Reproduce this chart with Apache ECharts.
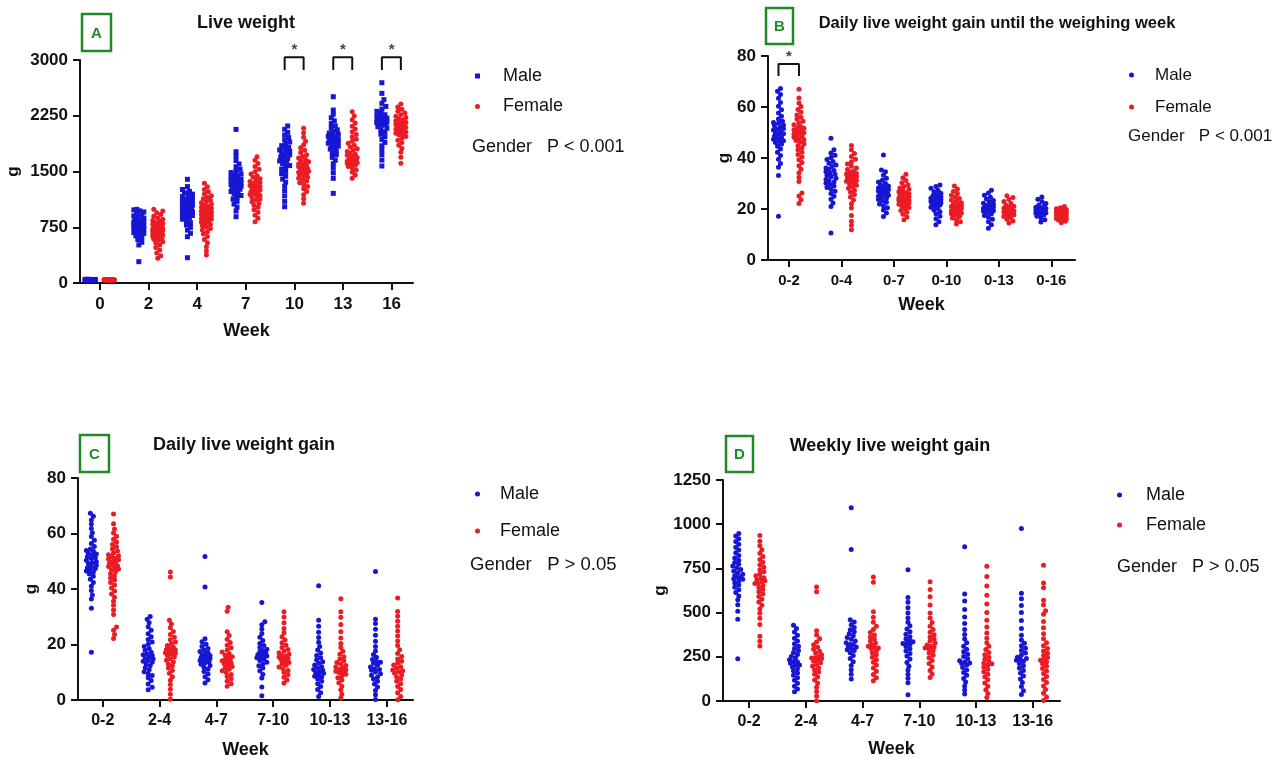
<!DOCTYPE html>
<html>
<head>
<meta charset="utf-8">
<script src="https://cdn.jsdelivr.net/npm/echarts@6.0.0/dist/echarts.min.js"></script>
<style>
  html, body { margin: 0; background: #fff; }
  #chart { width: 1283px; height: 762px; }
</style>
</head>
<body>
<div id="chart"></div>
<script>
// ---- category labels ----
const weekLabels = ['0', '2', '4', '7', '10', '13', '16']
const cumulativeLabels = ['0-2', '0-4', '0-7', '0-10', '0-13', '0-16']
const intervalLabels = ['0-2', '2-4', '4-7', '7-10', '10-13', '13-16']

// ---- A: live weight (g), one array per week ----
const liveWeightMale = [
  [42, 45, 40, 48, 44, 46, 43, 47, 41, 45, 44, 50, 39, 46, 43, 45, 48, 42, 44, 47, 45, 43, 46, 41, 44, 49, 45, 42, 47, 44, 46, 43, 45, 48, 40, 44, 46, 45, 43, 47],
  [287, 512, 548, 583, 612, 634, 652, 667, 680, 692, 702, 711, 720, 728, 736, 743, 750, 757, 764, 770, 777, 784, 790, 797, 804, 812, 820, 829, 838, 848, 860, 873, 888, 904, 921, 939, 956, 971, 984, 991],
  [340, 623, 668, 712, 748, 781, 812, 836, 858, 877, 893, 908, 921, 934, 946, 958, 969, 980, 991, 1002, 1013, 1024, 1035, 1046, 1058, 1069, 1081, 1093, 1106, 1119, 1133, 1148, 1163, 1179, 1196, 1213, 1232, 1258, 1297, 1395],
  [892, 968, 1021, 1062, 1098, 1128, 1154, 1177, 1196, 1214, 1231, 1246, 1261, 1275, 1288, 1301, 1314, 1326, 1338, 1350, 1362, 1374, 1386, 1398, 1411, 1424, 1438, 1452, 1468, 1486, 1507, 1532, 1563, 1602, 1648, 1712, 1766, 2067],
  [1026, 1098, 1172, 1241, 1302, 1355, 1398, 1436, 1471, 1502, 1530, 1556, 1580, 1602, 1622, 1641, 1659, 1676, 1693, 1709, 1725, 1741, 1757, 1773, 1790, 1808, 1827, 1848, 1871, 1897, 1925, 1956, 1990, 2026, 2068, 2112],
  [1206, 1408, 1482, 1548, 1604, 1651, 1690, 1724, 1753, 1779, 1802, 1823, 1842, 1860, 1877, 1880, 1893, 1908, 1915, 1923, 1938, 1945, 1953, 1968, 1975, 1984, 2001, 2019, 2039, 2061, 2086, 2114, 2146, 2182, 2223, 2271, 2327, 2506],
  [1574, 1654, 1728, 1792, 1846, 1891, 1932, 1968, 2001, 2031, 2058, 2082, 2103, 2121, 2136, 2140, 2149, 2155, 2160, 2165, 2170, 2175, 2179, 2185, 2188, 2195, 2197, 2207, 2218, 2231, 2246, 2264, 2285, 2310, 2340, 2375, 2417, 2467, 2551, 2694]
]
const liveWeightFemale = [
  [40, 43, 45, 42, 44, 41, 46, 43, 44, 42, 45, 40, 43, 47, 44, 42, 45, 43, 41, 44, 46, 43, 42, 44, 45, 41, 43, 44, 42, 46, 43, 45, 44, 42, 41, 43, 44, 45, 42, 43, 46, 44, 42, 43],
  [332, 368, 402, 445, 478, 512, 538, 556, 574, 589, 603, 614, 626, 635, 644, 652, 660, 667, 674, 681, 688, 694, 700, 706, 712, 719, 725, 731, 738, 745, 752, 759, 766, 774, 782, 791, 801, 812, 826, 841, 857, 876, 898, 921, 945, 968, 991],
  [377, 432, 488, 541, 586, 624, 659, 688, 712, 734, 753, 771, 788, 803, 818, 831, 844, 857, 869, 881, 893, 905, 917, 929, 941, 953, 965, 978, 991, 1004, 1018, 1032, 1047, 1062, 1078, 1095, 1113, 1132, 1152, 1174, 1198, 1226, 1258, 1296, 1341],
  [825, 871, 912, 951, 986, 1018, 1046, 1071, 1093, 1113, 1131, 1148, 1163, 1177, 1190, 1203, 1215, 1227, 1239, 1251, 1263, 1275, 1287, 1299, 1312, 1325, 1338, 1352, 1367, 1383, 1401, 1421, 1443, 1468, 1497, 1531, 1568, 1608, 1652, 1699],
  [1072, 1134, 1188, 1232, 1268, 1299, 1326, 1350, 1371, 1390, 1408, 1424, 1439, 1453, 1466, 1479, 1491, 1503, 1515, 1527, 1539, 1551, 1563, 1575, 1588, 1601, 1615, 1630, 1646, 1663, 1682, 1703, 1727, 1754, 1785, 1820, 1861, 1908, 1962, 2020, 2081],
  [1408, 1452, 1489, 1520, 1546, 1567, 1585, 1599, 1611, 1618, 1625, 1633, 1642, 1652, 1663, 1675, 1688, 1702, 1717, 1733, 1750, 1768, 1787, 1807, 1829, 1853, 1879, 1906, 1935, 1966, 1999, 2034, 2071, 2110, 2152, 2196, 2248, 2304],
  [1610, 1692, 1758, 1811, 1854, 1890, 1921, 1948, 1972, 1994, 2000, 2014, 2032, 2040, 2049, 2065, 2070, 2080, 2094, 2100, 2108, 2122, 2130, 2136, 2150, 2160, 2164, 2178, 2193, 2209, 2226, 2244, 2264, 2286, 2310, 2337, 2368, 2407]
]

// ---- daily gain 0-2 weeks (g/day), shared by B and C ----
const gain02Male = [17.2, 33.1, 36.4, 37.8, 39.5, 41.0, 42.3, 43.5, 44.6, 45.4, 46.1, 46.5, 46.8, 47.4, 47.7, 48.0, 48.6, 49.2, 49.5, 49.8, 50.4, 51.0, 51.3, 51.6, 52.2, 52.6, 52.9, 53.6, 53.9, 54.4, 55.3, 56.4, 57.6, 58.9, 60.3, 61.8, 63.4, 64.9, 66.2, 67.3]
const gain02Female = [22.2, 23.6, 25.1, 26.3, 30.8, 32.4, 34.1, 35.6, 37.0, 38.2, 39.3, 40.4, 41.4, 42.3, 43.2, 44.0, 44.8, 45.5, 46.2, 46.9, 47.2, 47.5, 48.1, 48.4, 48.7, 49.3, 49.6, 49.9, 50.5, 50.8, 51.1, 51.7, 52.0, 52.3, 53.0, 53.7, 54.4, 55.2, 56.0, 56.9, 57.9, 59.0, 60.2, 61.6, 63.5, 67.0]

// ---- B: daily gain until the weighing week (g/day) ----
const cumulativeGainMale = [
  gain02Male,
  [10.6, 21.0, 22.4, 23.8, 25.0, 26.1, 27.0, 27.8, 28.4, 29.0, 29.6, 30.1, 30.6, 31.1, 31.6, 32.1, 32.6, 33.1, 33.6, 34.1, 34.6, 35.1, 35.6, 36.1, 36.7, 37.3, 37.9, 38.6, 39.4, 40.2, 41.1, 42.0, 43.2, 47.7],
  [17.1, 18.4, 19.6, 20.5, 21.3, 22.0, 22.6, 23.2, 23.7, 24.2, 24.6, 25.0, 25.4, 25.8, 26.1, 26.4, 26.7, 27.0, 27.3, 27.6, 27.9, 28.2, 28.6, 29.0, 29.5, 30.0, 30.6, 31.3, 32.1, 33.2, 34.6, 35.3, 41.2],
  [13.8, 15.0, 16.2, 17.2, 18.1, 18.9, 19.6, 20.2, 20.7, 21.2, 21.6, 22.0, 22.4, 22.8, 23.2, 23.6, 24.0, 24.4, 24.8, 25.2, 25.7, 26.2, 26.8, 27.4, 28.1, 28.8, 29.4, 23.0, 22.1, 24.2],
  [12.5, 13.8, 15.0, 16.0, 16.8, 17.5, 18.1, 18.6, 19.1, 19.5, 19.9, 20.3, 20.7, 21.1, 21.5, 21.9, 22.3, 22.8, 23.3, 23.9, 24.6, 25.4, 26.3, 27.4, 20.0, 20.5, 19.3, 21.3],
  [14.9, 15.8, 16.6, 17.2, 17.7, 18.1, 18.5, 18.8, 19.1, 19.4, 19.7, 20.0, 20.3, 20.7, 21.1, 21.6, 22.2, 22.9, 23.8, 24.7, 18.3, 19.0, 19.6, 20.2]
]
const cumulativeGainFemale = [
  gain02Female,
  [11.9, 13.6, 15.2, 17.5, 20.4, 22.1, 23.5, 24.7, 25.7, 26.6, 27.4, 28.1, 28.7, 29.3, 29.9, 30.4, 30.9, 31.4, 31.9, 32.4, 32.9, 33.4, 33.9, 34.4, 34.9, 35.5, 36.1, 36.8, 37.6, 38.5, 39.5, 40.6, 41.8, 43.2, 44.9, 31.2, 32.6, 33.7],
  [15.8, 16.9, 17.9, 18.7, 19.4, 20.0, 20.6, 21.1, 21.5, 21.9, 22.3, 22.7, 23.0, 23.3, 23.6, 23.9, 24.2, 24.5, 24.8, 25.1, 25.4, 25.7, 26.0, 26.4, 26.8, 27.2, 27.7, 28.2, 28.8, 29.5, 30.3, 31.2, 32.3, 33.6, 24.0, 23.4],
  [14.1, 15.0, 15.8, 16.5, 17.1, 17.6, 18.1, 18.5, 18.9, 19.3, 19.7, 20.1, 20.5, 20.9, 21.3, 21.7, 22.1, 22.5, 23.0, 23.5, 24.1, 24.7, 25.4, 26.1, 26.9, 27.8, 29.0, 19.0, 20.3, 18.3, 21.0],
  [14.5, 15.3, 16.0, 16.6, 17.1, 17.5, 17.9, 18.2, 18.5, 18.8, 19.1, 19.4, 19.7, 20.0, 20.3, 20.7, 21.1, 21.6, 22.2, 22.9, 23.7, 24.5, 25.2, 18.0, 18.7, 19.2, 17.7],
  [14.6, 15.2, 15.7, 16.1, 16.5, 16.8, 17.1, 17.4, 17.7, 18.0, 18.3, 18.6, 18.9, 19.2, 19.5, 19.8, 20.1, 20.5, 21.0, 16.3, 17.0, 17.6, 18.2, 18.8, 19.4, 15.9]
]

// ---- C: daily gain per interval (g/day) ----
const intervalGainMale = [
  gain02Male,
  [3.7, 4.6, 5.8, 7.0, 8.0, 8.8, 9.5, 10.2, 10.9, 11.6, 12.3, 13.0, 13.6, 14.2, 14.8, 15.4, 16.0, 16.6, 17.2, 17.9, 18.6, 19.3, 20.1, 20.9, 21.8, 22.8, 23.9, 25.1, 26.4, 27.8, 29.1, 30.1, 15.0, 14.0, 16.3],
  [6.1, 7.3, 8.4, 9.4, 10.3, 11.1, 11.8, 12.4, 12.9, 13.4, 13.8, 14.2, 14.6, 15.0, 15.4, 15.8, 16.2, 16.6, 17.0, 17.5, 18.0, 18.6, 19.3, 20.1, 21.0, 22.1, 40.7, 51.7, 14.4, 15.2, 16.0],
  [1.5, 4.7, 7.9, 9.3, 10.5, 11.5, 12.3, 13.0, 13.6, 14.2, 14.7, 15.2, 15.7, 16.1, 16.5, 16.9, 17.3, 17.8, 18.3, 18.9, 19.6, 20.4, 21.4, 22.6, 24.0, 25.6, 27.1, 28.2, 35.1, 15.9, 16.3],
  [1.3, 2.6, 3.8, 4.9, 5.9, 6.8, 7.6, 8.3, 9.0, 9.6, 10.2, 10.8, 11.4, 12.0, 12.6, 13.2, 13.8, 14.5, 15.2, 16.0, 16.9, 18.0, 19.3, 20.8, 22.5, 24.4, 26.6, 28.7, 41.2, 9.8, 11.0, 8.6],
  [0.2, 1.9, 3.4, 4.7, 5.8, 6.8, 7.6, 8.3, 8.9, 9.5, 10.1, 10.7, 11.3, 11.9, 12.5, 13.2, 13.9, 14.6, 15.4, 16.4, 17.7, 19.3, 21.2, 23.3, 25.5, 27.6, 29.1, 46.3, 11.0, 13.6]
]
const intervalGainFemale = [
  gain02Female,
  [0.3, 2.1, 3.9, 5.6, 7.1, 8.4, 9.6, 10.6, 11.5, 12.3, 13.0, 13.7, 14.3, 14.9, 15.5, 16.0, 16.5, 17.0, 17.5, 18.0, 18.5, 19.0, 19.6, 20.2, 20.9, 21.7, 22.6, 23.6, 24.7, 26.0, 27.4, 28.7, 44.3, 46.1, 17.2, 16.8, 18.2],
  [5.0, 5.9, 6.8, 7.7, 8.5, 9.2, 9.9, 10.5, 11.1, 11.6, 12.1, 12.6, 13.1, 13.6, 14.1, 14.6, 15.1, 15.6, 16.1, 16.7, 17.3, 18.0, 18.8, 19.7, 20.7, 21.9, 23.2, 24.6, 32.0, 33.4, 13.3, 14.3],
  [6.1, 7.2, 8.2, 9.1, 9.9, 10.6, 11.3, 11.9, 12.5, 13.0, 13.5, 14.0, 14.5, 15.0, 15.5, 16.0, 16.5, 17.0, 17.6, 18.2, 18.9, 19.7, 20.6, 21.6, 22.8, 24.2, 25.8, 27.8, 29.9, 31.8, 15.2, 15.8],
  [0.7, 2.1, 3.6, 5.0, 6.2, 7.2, 8.0, 8.7, 9.3, 9.9, 10.4, 10.9, 11.4, 11.9, 12.4, 12.9, 13.5, 14.1, 14.8, 15.6, 16.5, 17.6, 18.9, 20.4, 22.3, 24.6, 27.2, 29.8, 31.8, 36.5, 10.1, 11.1],
  [0.1, 1.3, 2.6, 3.8, 4.9, 5.9, 6.8, 7.6, 8.3, 9.0, 9.6, 10.2, 10.8, 11.4, 12.0, 12.6, 13.3, 14.0, 14.8, 15.7, 16.8, 18.1, 19.6, 21.3, 23.1, 24.9, 26.6, 28.4, 30.2, 31.9, 36.8, 10.5]
]

// ---- D: weekly live weight gain per interval (g) ----
const weeklyGainMale = [
  [239, 462, 508, 545, 572, 594, 613, 629, 643, 656, 668, 679, 689, 699, 708, 717, 726, 735, 744, 753, 763, 773, 784, 796, 809, 823, 838, 854, 870, 886, 902, 918, 933, 948, 700, 690],
  [52, 68, 84, 101, 117, 132, 146, 159, 171, 182, 193, 203, 213, 223, 233, 243, 253, 263, 274, 285, 297, 310, 324, 339, 355, 372, 390, 410, 428, 220, 205],
  [124, 151, 177, 201, 222, 241, 258, 273, 286, 298, 309, 319, 329, 339, 349, 359, 369, 380, 391, 403, 416, 431, 447, 460, 857, 1093, 305, 320, 290],
  [35, 103, 128, 152, 175, 197, 218, 237, 254, 269, 283, 296, 308, 319, 330, 341, 352, 364, 377, 391, 407, 425, 446, 470, 498, 528, 558, 585, 742, 335, 325],
  [39, 62, 85, 107, 127, 145, 161, 176, 190, 203, 215, 227, 239, 251, 264, 278, 293, 310, 329, 351, 376, 405, 438, 475, 518, 565, 605, 873, 212, 220],
  [37, 58, 82, 104, 124, 142, 158, 173, 187, 200, 212, 224, 236, 248, 260, 272, 285, 298, 312, 327, 345, 372, 410, 455, 500, 540, 578, 610, 976, 230, 240]
]
const weeklyGainFemale = [
  [311, 338, 366, 433, 468, 497, 521, 542, 560, 576, 591, 605, 618, 630, 642, 653, 664, 675, 686, 697, 708, 719, 731, 743, 756, 770, 785, 801, 818, 836, 856, 878, 903, 936, 680, 665, 695],
  [2, 28, 54, 78, 100, 119, 136, 151, 164, 176, 187, 197, 207, 216, 225, 234, 243, 252, 261, 271, 281, 292, 304, 318, 334, 352, 373, 398, 618, 645, 240, 245],
  [114, 132, 150, 168, 186, 203, 219, 234, 248, 261, 273, 284, 295, 306, 317, 328, 339, 350, 362, 374, 388, 404, 423, 446, 474, 505, 672, 701, 300, 310],
  [133, 153, 173, 193, 212, 229, 245, 259, 272, 284, 295, 306, 317, 328, 339, 350, 362, 375, 389, 405, 423, 444, 469, 498, 543, 590, 630, 675, 300, 310],
  [20, 42, 63, 83, 102, 120, 137, 152, 166, 179, 191, 203, 214, 225, 236, 248, 261, 275, 291, 309, 330, 355, 384, 418, 457, 500, 548, 598, 650, 704, 762, 210],
  [3, 22, 44, 65, 85, 104, 122, 139, 155, 170, 184, 197, 210, 222, 234, 246, 258, 270, 283, 297, 312, 330, 352, 380, 415, 450, 490, 510, 545, 570, 640, 668, 768, 230]
]

const MALE_COLOR = '#1616d4'
const FEMALE_COLOR = '#ec1c24'
const FONT = '"Liberation Sans", Arial, sans-serif'
const DOT = 5
const DOT_GAP = 4
const MAX_SPREAD = 5

const panels = [
  {
    letter: 'A', title: 'Live weight', titleX: 246, titleY: 23, titleSize: 18,
    box: [82, 14, 29, 37],
    grid: { left: 80, top: 60, width: 333, height: 223 },
    xMin: -0.41, xMax: 6.44, yMax: 3000, yStep: 750, labelSize: 17,
    cats: weekLabels, male: liveWeightMale, female: liveWeightFemale, maleSymbol: 'rect',
    nameGapX: 39, nameGapY: 58,
    brackets: [4, 5, 6], bracketTop: 3036, bracketLeg: 2865,
    legend: { left: 475, top: 66, gap: 10.5, pad: 18, size: 18 },
    pText: 'Gender   P < 0.001', pX: 472, pY: 147, pSize: 18
  },
  {
    letter: 'B', title: 'Daily live weight gain until the weighing week', titleX: 997, titleY: 23, titleSize: 16.5,
    box: [766, 8, 27, 36],
    grid: { left: 768, top: 56, width: 307, height: 204 },
    xMin: -0.4, xMax: 5.45, yMax: 80, yStep: 20, labelSize: 15,
    cats: cumulativeLabels, male: cumulativeGainMale, female: cumulativeGainFemale, maleSymbol: 'circle',
    nameGapX: 36, nameGapY: 35,
    brackets: [0], bracketTop: 76.9, bracketLeg: 72.2,
    legend: { left: 1129, top: 65, gap: 12, pad: 16, size: 17 },
    pText: 'Gender   P < 0.001', pX: 1128, pY: 136, pSize: 17
  },
  {
    letter: 'C', title: 'Daily live weight gain', titleX: 244, titleY: 445, titleSize: 18,
    box: [80, 435, 29, 37],
    grid: { left: 78, top: 478, width: 335, height: 222 },
    xMin: -0.435, xMax: 5.46, yMax: 80, yStep: 20, labelSize: 16,
    cats: intervalLabels, male: intervalGainMale, female: intervalGainFemale, maleSymbol: 'circle',
    nameGapX: 41, nameGapY: 38,
    brackets: [], bracketTop: 0, bracketLeg: 0,
    legend: { left: 475, top: 484, gap: 17, pad: 15, size: 18 },
    pText: 'Gender   P > 0.05', pX: 470, pY: 565, pSize: 18.5
  },
  {
    letter: 'D', title: 'Weekly live weight gain', titleX: 890, titleY: 446, titleSize: 18,
    box: [726, 436, 27, 36],
    grid: { left: 723, top: 480, width: 337, height: 221 },
    xMin: -0.46, xMax: 5.48, yMax: 1250, yStep: 250, labelSize: 16,
    cats: intervalLabels, male: weeklyGainMale, female: weeklyGainFemale, maleSymbol: 'circle',
    nameGapX: 39, nameGapY: 52,
    brackets: [], bracketTop: 0, bracketLeg: 0,
    legend: { left: 1117, top: 485, gap: 10, pad: 19, size: 18 },
    pText: 'Gender   P > 0.05', pX: 1117, pY: 567, pSize: 18
  }
]

// beeswarm layout: x offset in pixels so dots do not pile up
const OFFSETS = [0]
for (let k = 1; k <= MAX_SPREAD; k++) OFFSETS.push(k, -k)

function swarm(values, center, pxPerX, pxPerY) {
  const placed = []
  return values.slice().sort((a, b) => a - b).map(v => {
    const py = v * pxPerY
    let best = 0
    let bestGap = -1
    for (const off of OFFSETS) {
      let gap = Infinity
      for (const p of placed) {
        const d = Math.hypot(p[0] - off, p[1] - py)
        if (d < gap) gap = d
      }
      if (gap >= DOT_GAP) { best = off; break }
      if (gap > bestGap) { bestGap = gap; best = off }
    }
    placed.push([best, py])
    return [center + best / pxPerX, v]
  })
}

const grids = []
const xAxes = []
const yAxes = []
const series = []
const legends = []
const graphics = []

panels.forEach((p, i) => {
  grids.push(p.grid)
  const pxPerX = p.grid.width / (p.xMax - p.xMin)
  const pxPerY = p.grid.height / p.yMax
  const ticks = p.cats.map((c, k) => k)

  xAxes.push({
    type: 'value', gridIndex: i, min: p.xMin, max: p.xMax,
    name: 'Week', nameLocation: 'middle', nameGap: p.nameGapX,
    nameTextStyle: { fontFamily: FONT, fontWeight: 'bold', fontSize: 18, color: '#111' },
    splitLine: { show: false },
    axisLine: { onZero: false, lineStyle: { color: '#111', width: 2 } },
    axisTick: { customValues: ticks, length: 7, lineStyle: { color: '#111', width: 2 } },
    axisLabel: {
      customValues: ticks, margin: 13, color: '#111', fontFamily: FONT, fontWeight: 'bold', fontSize: p.labelSize,
      formatter: v => p.cats[Math.round(v)]
    }
  })
  yAxes.push({
    type: 'value', gridIndex: i, min: 0, max: p.yMax, interval: p.yStep,
    name: 'g', nameLocation: 'middle', nameGap: p.nameGapY,
    nameTextStyle: { fontFamily: FONT, fontWeight: 'bold', fontSize: 17, color: '#111' },
    splitLine: { show: false },
    axisLine: { show: true, onZero: false, lineStyle: { color: '#111', width: 2 } },
    axisTick: { show: true, length: 7, lineStyle: { color: '#111', width: 2 } },
    axisLabel: { margin: 12, color: '#111', fontFamily: FONT, fontWeight: 'bold', fontSize: 17, formatter: v => String(v) }
  })

  const maleData = []
  const femaleData = []
  p.cats.forEach((c, k) => {
    maleData.push(...swarm(p.male[k], k - 0.2, pxPerX, pxPerY))
    femaleData.push(...swarm(p.female[k], k + 0.19, pxPerX, pxPerY))
  })
  series.push({
    name: 'Male', type: 'scatter', xAxisIndex: i, yAxisIndex: i, data: maleData,
    symbol: p.maleSymbol, symbolSize: DOT, itemStyle: { color: MALE_COLOR, opacity: 1 }, silent: true
  })
  series.push({
    name: 'Female', type: 'scatter', xAxisIndex: i, yAxisIndex: i, data: femaleData,
    symbol: 'circle', symbolSize: DOT, itemStyle: { color: FEMALE_COLOR, opacity: 1 }, silent: true
  })

  // significance brackets
  p.brackets.forEach(k => {
    series.push({
      type: 'line', xAxisIndex: i, yAxisIndex: i, clip: false, silent: true, symbol: 'none',
      lineStyle: { color: '#111', width: 2 },
      data: [[k - 0.2, p.bracketLeg], [k - 0.2, p.bracketTop], [k + 0.19, p.bracketTop], [k + 0.19, p.bracketLeg]]
    })
    series.push({
      type: 'scatter', xAxisIndex: i, yAxisIndex: i, clip: false, silent: true, symbolSize: 0,
      data: [[k, p.bracketTop]],
      label: { show: true, position: 'top', distance: 0, formatter: '*', color: '#111', fontFamily: FONT, fontWeight: 'bold', fontSize: 15 }
    })
  })

  legends.push({
    orient: 'vertical', left: p.legend.left, top: p.legend.top, padding: 0,
    itemWidth: DOT, itemHeight: DOT, itemGap: p.legend.gap, selectedMode: false,
    data: [{ name: 'Male', icon: p.maleSymbol === 'rect' ? 'rect' : 'circle' }, { name: 'Female', icon: 'circle' }],
    textStyle: { fontFamily: FONT, fontSize: p.legend.size, color: '#111', lineHeight: 20, padding: [0, 0, 0, p.legend.pad] }
  })

  graphics.push({
    type: 'rect', shape: { x: p.box[0], y: p.box[1], width: p.box[2], height: p.box[3] },
    style: { fill: 'none', stroke: '#1f8a24', lineWidth: 2.5 }
  })
  graphics.push({
    type: 'text', x: p.box[0] + p.box[2] / 2, y: p.box[1] + p.box[3] / 2 + 1,
    style: { text: p.letter, textAlign: 'center', textVerticalAlign: 'middle', font: 'bold 15px ' + FONT, fill: '#1f8a24' }
  })
  graphics.push({
    type: 'text', x: p.titleX, y: p.titleY,
    style: { text: p.title, textAlign: 'center', textVerticalAlign: 'middle', font: 'bold ' + p.titleSize + 'px ' + FONT, fill: '#111' }
  })
  graphics.push({
    type: 'text', x: p.pX, y: p.pY,
    style: { text: p.pText, textAlign: 'left', textVerticalAlign: 'middle', font: p.pSize + 'px ' + FONT, fill: '#111' }
  })
})

const chart = echarts.init(document.getElementById('chart'))
chart.setOption({
  animation: false,
  backgroundColor: '#fff',
  grid: grids,
  xAxis: xAxes,
  yAxis: yAxes,
  legend: legends,
  graphic: graphics,
  series: series
})
</script>
</body>
</html>
